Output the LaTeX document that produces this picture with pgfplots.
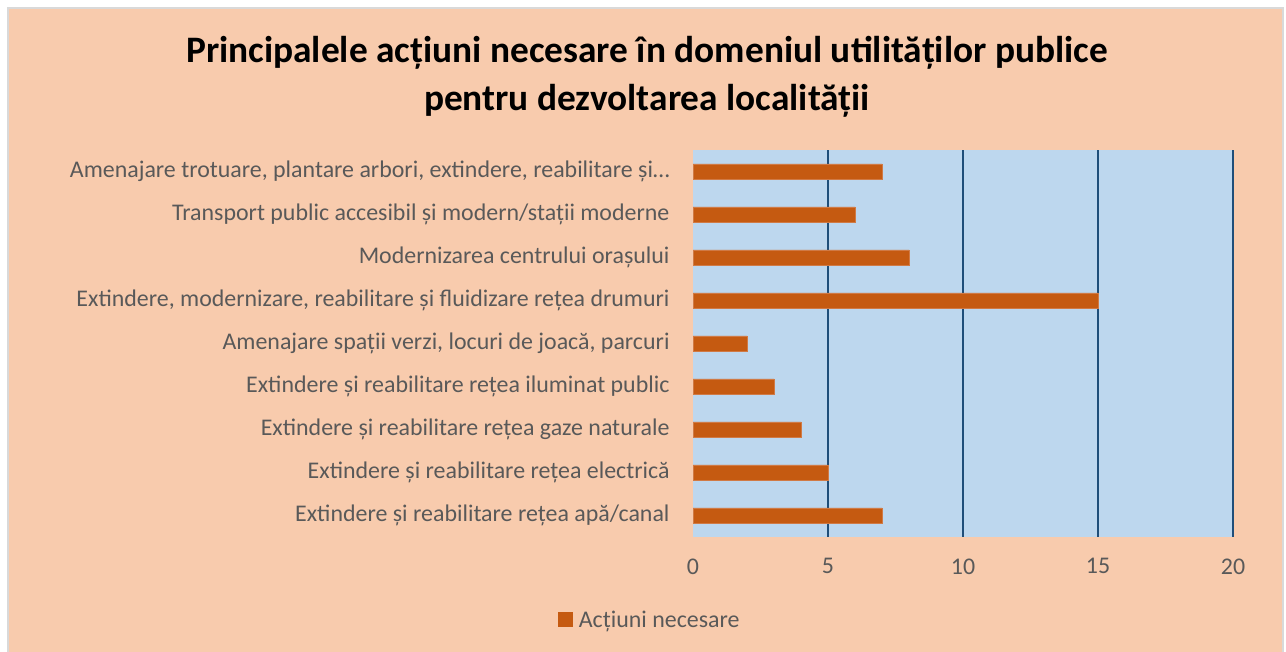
\documentclass[border=0pt]{standalone}
\usepackage{pgfplots}
\pgfplotsset{compat=1.18}
\usepackage{fontspec}
\setmainfont{Carlito}
\definecolor{peach}{HTML}{F8CBAD}
\definecolor{plotblue}{HTML}{BDD7EE}
\definecolor{barorange}{HTML}{C55A11}
\definecolor{baredge}{HTML}{D07A45}
\definecolor{gridblue}{HTML}{1F4E79}
\definecolor{txtgray}{HTML}{595959}
\definecolor{bordergray}{HTML}{D9D9D9}
\begin{document}
\begin{tikzpicture}[x=1bp,y=1bp]
\path[use as bounding box] (0,0) rectangle (1286,652);
\fill[white] (0,0) rectangle (1286,652);
\fill[peach] (8,0) rectangle (1283,644);
\draw[bordergray,line width=1.5bp] (8,0) -- (8,644) -- (1283,644) -- (1283,0);
\node[align=center,font=\fontsize{37.5}{48}\selectfont\bfseries,text=black] at (647,575)
  {Principalele acțiuni necesare în domeniul utilităților publice\\pentru dezvoltarea localității};
\begin{axis}[
  at={(693bp,115bp)}, anchor=south west,
  scale only axis, width=540bp, height=387bp,
  xbar, bar width=15bp,
  xmin=0, xmax=20,
  ymin=-0.5, ymax=8.5,
  axis line style={draw=none},
  axis background/.style={fill=plotblue},
  xtick={0,5,10,15,20},
  extra x ticks={5,10,15,20},
  extra x tick labels={},
  extra x tick style={grid=major, major grid style={gridblue,line width=1.6bp}},
  ytick={0,...,8},
  yticklabels={
    Extindere și reabilitare rețea apă/canal,
    Extindere și reabilitare rețea electrică,
    Extindere și reabilitare rețea gaze naturale,
    Extindere și reabilitare rețea iluminat public,
    {Amenajare spații verzi, locuri de joacă, parcuri},
    {Extindere, modernizare, reabilitare și fluidizare rețea drumuri},
    Modernizarea centrului orașului,
    Transport public accesibil și modern/stații moderne,
    {Amenajare trotuare, plantare arbori, extindere, reabilitare și…}},
  major tick length=0pt,
  tick style={draw=none},
  /pgf/number format/assume math mode=true,
  tick label style={font=\fontsize{24}{28}\selectfont, text=txtgray},
  xticklabel style={yshift=-18bp},
  yticklabel style={xshift=-20bp},
  legend style={at={(-0.08,-0.214)}, anchor=center, draw=none, fill=none,
    font=\fontsize{24}{28}\selectfont, text=txtgray, legend cell align=left,
    /tikz/every odd column/.append style={column sep=4bp}},
  legend image code/.code={\fill[barorange] (0bp,-7bp) rectangle (14bp,7bp);},
]
\addplot[fill=barorange, draw=baredge, line width=0.8bp] coordinates {
  (7,0) (5,1) (4,2) (3,3) (2,4) (15,5) (8,6) (6,7) (7,8)};
\addlegendentry{Acțiuni necesare}
\end{axis}
\end{tikzpicture}
\end{document}
